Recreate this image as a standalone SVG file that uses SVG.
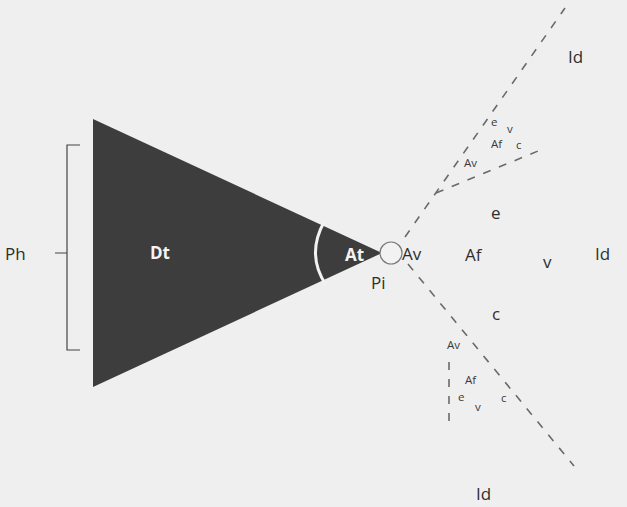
<svg xmlns="http://www.w3.org/2000/svg" width="627" height="507" viewBox="0 0 627 507">
<style>
.t{font-family:"Open Sans","Noto Sans",sans-serif;fill:#2e2e2e;font-size:17px}
.s{font-family:"Open Sans","Noto Sans",sans-serif;fill:#3a3a3a;font-size:11.5px}
.w{font-family:"Open Sans","Noto Sans",sans-serif;fill:#f4f4f4;font-size:17px;font-weight:bold}
.d{fill:none;stroke:#6a6a6a;stroke-width:1.6;stroke-dasharray:8 9}
</style>
<rect width="627" height="507" fill="#efefef"/>
<g id="triangle">
<polygon points="93,119 93,387 382,253" fill="#3d3d3d"/>
<path d="M324,222 Q306,255 326,285" fill="none" stroke="#f2f2f2" stroke-width="3"/>
<text class="w" x="150" y="259">Dt</text>
<text class="w" x="345" y="261">At</text>
</g>
<g id="pupil">
<circle cx="391" cy="253" r="11" fill="#f2f2f2" stroke="#777" stroke-width="1.2"/>
<text class="t" x="371" y="289">Pi</text>
</g>
<g id="bracket">
<path d="M80,145 H67 V350 H80 M67,253 H55" fill="none" stroke="#444" stroke-width="1.2"/>
<text class="t" x="5" y="260">Ph</text>
</g>
<g id="connectors">
<path class="d" d="M405,237 L565,8"/>
<path class="d" d="M436,193 L538,151"/>
<path class="d" d="M408,264 L574,466"/>
<path class="d" d="M449,362 L449,426"/>
</g>
<g id="center-labels">
<text class="t" x="402" y="260">Av</text>
<text class="t" x="465" y="261">Af</text>
<text class="t" x="543" y="268">v</text>
<text class="t" x="595" y="260">Id</text>
<text class="t" x="491" y="219">e</text>
<text class="t" x="492" y="320">c</text>
</g>
<g id="upper-labels">
<text class="s" x="491" y="126">e</text>
<text class="s" x="507" y="133">v</text>
<text class="s" x="491" y="148">Af</text>
<text class="s" x="516" y="149">c</text>
<text class="s" x="464" y="167">Av</text>
<text class="t" x="568" y="63">Id</text>
</g>
<g id="lower-labels">
<text class="s" x="447" y="349">Av</text>
<text class="s" x="465" y="384">Af</text>
<text class="s" x="458" y="401">e</text>
<text class="s" x="475" y="411">v</text>
<text class="s" x="501" y="402">c</text>
<text class="t" x="476" y="500">Id</text>
</g>
</svg>
